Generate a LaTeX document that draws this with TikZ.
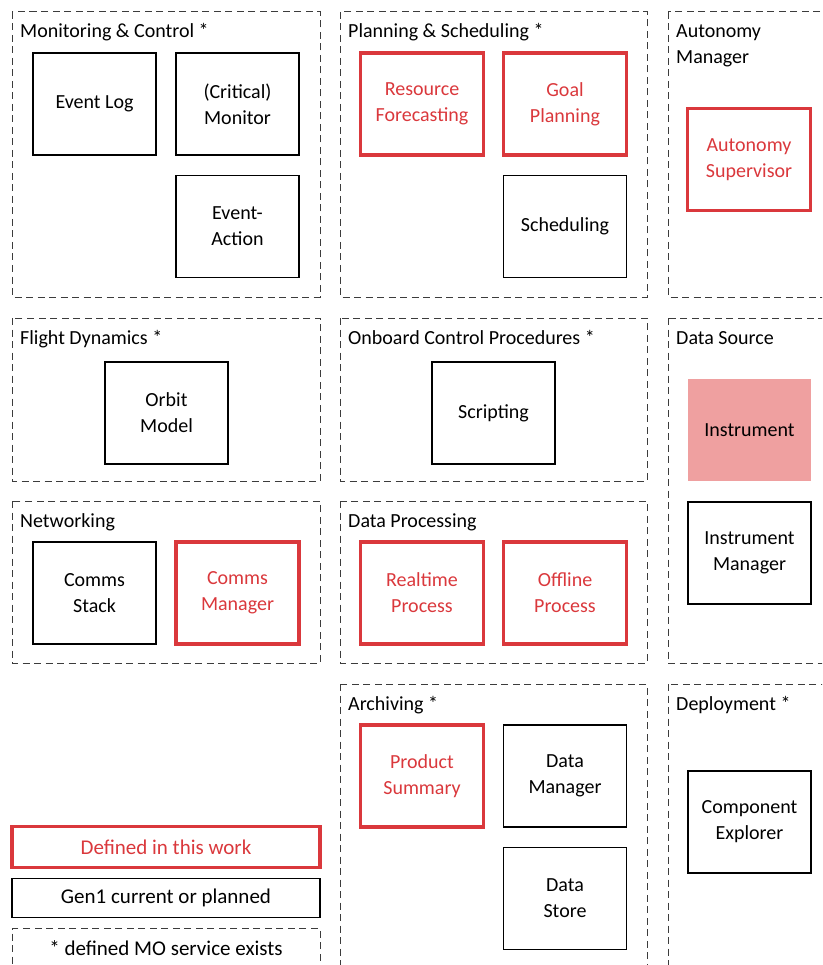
\documentclass[tikz,border=0pt]{standalone}
\usepackage{fontspec}
\setmainfont{Carlito}
\usetikzlibrary{positioning}

\definecolor{workred}{RGB}{218,56,60}
\definecolor{instpink}{RGB}{239,160,160}
\definecolor{groupgray}{RGB}{60,60,60}

\begin{document}
\begin{tikzpicture}[x = 1pt, y = -1pt]
\tikzstyle{GroupStyle}=[
draw = groupgray,
dash pattern = on 7pt off 4.5pt,
line width = 1pt]
\tikzstyle{GroupLabel}=[
anchor = base west,
inner sep = 0pt,
align = left,
font = \fontsize{20}{26}\selectfont]
\tikzstyle{BoxStyle}=[
draw,
line width = 1.4pt,
minimum width = 123pt,
minimum height = 102pt,
align = center,
font = \fontsize{20}{26}\selectfont]
\tikzstyle{NewBox}=[BoxStyle, draw = workred, text = workred, line width = 3.2pt]
\tikzstyle{LegendStyle}=[
minimum width = 308pt,
align = center,
font = \fontsize{21}{26}\selectfont]
\useasboundingbox (0,0) rectangle (822,965);
\clip (0,0) rectangle (822,965);
% service groups
\draw[GroupStyle] (12,12) rectangle (320,297);
\draw[GroupStyle] (340,12) rectangle (647,297);
\draw[GroupStyle] (668,12) rectangle (850,297);
\draw[GroupStyle] (12,318) rectangle (320,481);
\draw[GroupStyle] (340,318) rectangle (647,481);
\draw[GroupStyle] (668,318) rectangle (850,663);
\draw[GroupStyle] (12,501) rectangle (320,663);
\draw[GroupStyle] (340,501) rectangle (647,663);
\draw[GroupStyle] (340,684) rectangle (647,990);
\draw[GroupStyle] (668,684) rectangle (850,990);
\node[GroupLabel] (lmc) at (20,38) {Monitoring \& Control *};
\node[GroupLabel] (lps) at (348,38) {Planning \& Scheduling *};
\node[GroupLabel] (lam) at (676,64) {Autonomy\\Manager};
\node[GroupLabel] (lfd) at (20,344) {Flight Dynamics *};
\node[GroupLabel] (locp) at (348,344) {Onboard Control Procedures *};
\node[GroupLabel] (lds) at (676,344) {Data Source};
\node[GroupLabel] (lnet) at (20,527) {Networking};
\node[GroupLabel] (ldp) at (348,527) {Data Processing};
\node[GroupLabel] (larc) at (348,710) {Archiving *};
\node[GroupLabel] (ldep) at (676,710) {Deployment *};
% services
\node[BoxStyle] (evlog) at (94.5,104) {Event Log};
\node[BoxStyle] (monitor) at (237.5,104) {(Critical)\\Monitor};
\node[BoxStyle] (evact) at (237.5,226.5) {Event-\\Action};
\node[NewBox] (resfc) at (422,104) {Resource\\Forecasting};
\node[NewBox] (goalpl) at (565,104) {Goal\\Planning};
\node[BoxStyle] (sched) at (565,226.5) {Scheduling};
\node[NewBox] (autsup) at (749,159.5) {Autonomy\\Supervisor};
\node[BoxStyle] (orbit) at (166.5,413) {Orbit\\Model};
\node[BoxStyle] (script) at (493.5,413) {Scripting};
\node[BoxStyle, draw = none, fill = instpink] (instr) at (749.5,430) {Instrument};
\node[BoxStyle] (instmgr) at (749.5,553) {Instrument\\Manager};
\node[BoxStyle] (cstack) at (94.5,593) {Comms\\Stack};
\node[NewBox] (cmgr) at (237.5,593) {Comms\\Manager};
\node[NewBox] (rtproc) at (422,593) {Realtime\\Process};
\node[NewBox] (offproc) at (565,593) {Offline\\Process};
\node[NewBox] (prodsum) at (422,776) {Product\\Summary};
\node[BoxStyle] (datamgr) at (565,776) {Data\\Manager};
\node[BoxStyle] (datast) at (565,898.5) {Data\\Store};
\node[BoxStyle] (compex) at (749.5,822) {Component\\Explorer};
% legend
\node[LegendStyle, draw = workred, text = workred, line width = 3.2pt, minimum height = 41pt] (kdef) at (166,847) {Defined in this work};
\node[LegendStyle, draw, line width = 1.4pt, minimum height = 39pt] (kgen) at (166,898) {Gen1 current or planned};
\node[LegendStyle, GroupStyle, minimum height = 46pt, anchor = north] (kmo) at (166,928) {};
\node[LegendStyle, anchor = base] (kmotext) at (166,955) {* defined MO service exists};
\end{tikzpicture}
\end{document}
